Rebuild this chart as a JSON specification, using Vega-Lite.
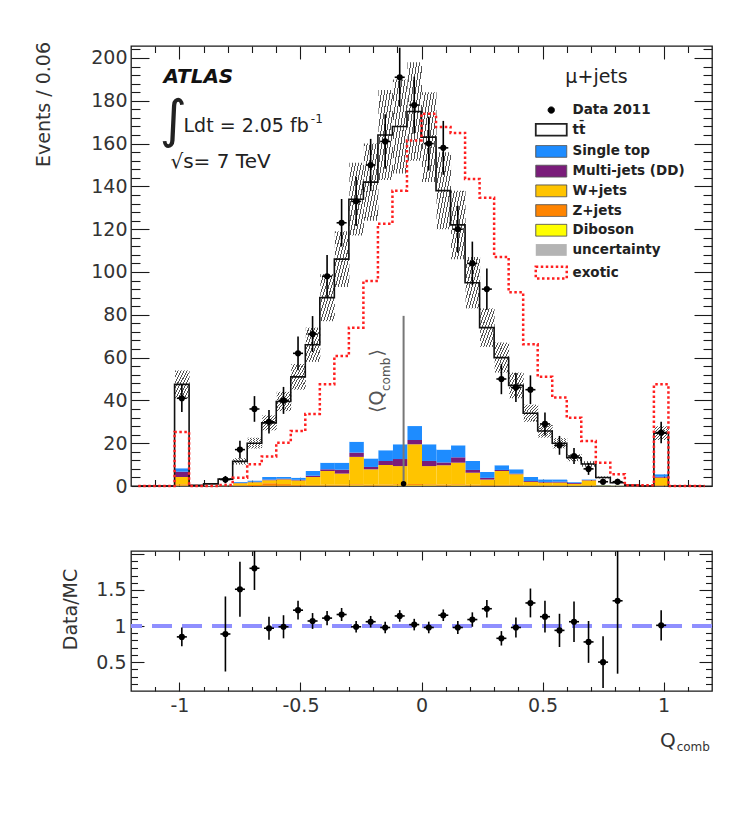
{
  "$schema": "https://vega.github.io/schema/vega-lite/v6.json",
  "background": "white",
  "autosize": {"type": "pad"},
  "padding": {"left": 33, "top": 40, "right": 10, "bottom": 10},
  "config": {
    "font": "DejaVu Sans",
    "view": {"stroke": "#1a1a1a", "strokeWidth": 1.3},
    "axis": {"grid": false, "domain": false, "tickColor": "#1a1a1a", "tickWidth": 1.1, "labelFont": "DejaVu Sans", "labelFontSize": 19, "labelColor": "#333333", "titleFont": "DejaVu Sans", "titleFontSize": 19, "titleFontWeight": "normal", "titleColor": "#333333", "labelPadding": 5}
  },
  "datasets": {
    "procs": [
      {"key": "diboson", "label": "Diboson", "rank": 1},
      {"key": "zjets", "label": "Z+jets", "rank": 2},
      {"key": "wjets", "label": "W+jets", "rank": 3},
      {"key": "multijet", "label": "Multi-jets (DD)", "rank": 4},
      {"key": "singletop", "label": "Single top", "rank": 5},
      {"key": "ttbar", "label": "tt\u0304", "rank": 6}
    ],
    "bkg": [
      {"q": -0.99, "ttbar": 39.2, "singletop": 1.6, "multijet": 2.5, "wjets": 3.4, "zjets": 0.6, "diboson": 0.2},
      {"q": -0.93, "ttbar": 0.3, "singletop": 0, "multijet": 0, "wjets": 0, "zjets": 0, "diboson": 0},
      {"q": -0.87, "ttbar": 0.9, "singletop": 0, "multijet": 0, "wjets": 0.1, "zjets": 0, "diboson": 0},
      {"q": -0.81, "ttbar": 2.7, "singletop": 0.2, "multijet": 0, "wjets": 0.3, "zjets": 0, "diboson": 0},
      {"q": -0.75, "ttbar": 9.6, "singletop": 0.4, "multijet": 0.2, "wjets": 1.0, "zjets": 0.3, "diboson": 0},
      {"q": -0.69, "ttbar": 17.4, "singletop": 0.6, "multijet": 0.3, "wjets": 1.2, "zjets": 0.5, "diboson": 0},
      {"q": -0.63, "ttbar": 25.3, "singletop": 1.2, "multijet": 0.3, "wjets": 1.4, "zjets": 1.2, "diboson": 0.1},
      {"q": -0.57, "ttbar": 35.3, "singletop": 0.8, "multijet": 0.3, "wjets": 2.2, "zjets": 0.8, "diboson": 0.1},
      {"q": -0.51, "ttbar": 47.1, "singletop": 1.0, "multijet": 0.3, "wjets": 2.1, "zjets": 0.4, "diboson": 0.1},
      {"q": -0.45, "ttbar": 59.0, "singletop": 2.2, "multijet": 0.6, "wjets": 3.7, "zjets": 0.3, "diboson": 0.2},
      {"q": -0.39, "ttbar": 77.1, "singletop": 3.1, "multijet": 0.8, "wjets": 6.4, "zjets": 0.4, "diboson": 0.2},
      {"q": -0.33, "ttbar": 95.1, "singletop": 3.3, "multijet": 1.8, "wjets": 5.2, "zjets": 0.4, "diboson": 0.2},
      {"q": -0.27, "ttbar": 113.3, "singletop": 5.1, "multijet": 2.0, "wjets": 12.8, "zjets": 0.5, "diboson": 0.3},
      {"q": -0.21, "ttbar": 129.1, "singletop": 4.0, "multijet": 1.1, "wjets": 7.2, "zjets": 0.4, "diboson": 0.2},
      {"q": -0.15, "ttbar": 147.3, "singletop": 5.0, "multijet": 1.9, "wjets": 9.1, "zjets": 0.5, "diboson": 0.2},
      {"q": -0.09, "ttbar": 148.5, "singletop": 6.9, "multijet": 3.3, "wjets": 8.5, "zjets": 0.5, "diboson": 0.3},
      {"q": -0.03, "ttbar": 147.0, "singletop": 6.5, "multijet": 2.0, "wjets": 18.6, "zjets": 0.6, "diboson": 0.3},
      {"q": 0.03, "ttbar": 143.5, "singletop": 7.8, "multijet": 2.4, "wjets": 8.5, "zjets": 0.5, "diboson": 0.3},
      {"q": 0.09, "ttbar": 121.0, "singletop": 6.0, "multijet": 1.3, "wjets": 9.0, "zjets": 0.5, "diboson": 0.2},
      {"q": 0.15, "ttbar": 103.0, "singletop": 5.6, "multijet": 2.5, "wjets": 10.1, "zjets": 0.5, "diboson": 0.3},
      {"q": 0.21, "ttbar": 83.3, "singletop": 4.2, "multijet": 1.3, "wjets": 5.6, "zjets": 0.4, "diboson": 0.2},
      {"q": 0.27, "ttbar": 67.4, "singletop": 2.8, "multijet": 0.8, "wjets": 2.6, "zjets": 0.3, "diboson": 0.1},
      {"q": 0.33, "ttbar": 50.3, "singletop": 2.2, "multijet": 0.5, "wjets": 6.5, "zjets": 0.3, "diboson": 0.2},
      {"q": 0.39, "ttbar": 39.2, "singletop": 2.0, "multijet": 0.3, "wjets": 5.1, "zjets": 0.3, "diboson": 0.1},
      {"q": 0.45, "ttbar": 29.8, "singletop": 1.9, "multijet": 0.4, "wjets": 1.6, "zjets": 0.2, "diboson": 0.1},
      {"q": 0.51, "ttbar": 22.6, "singletop": 1.2, "multijet": 0.3, "wjets": 1.3, "zjets": 0.2, "diboson": 0.1},
      {"q": 0.57, "ttbar": 16.9, "singletop": 1.1, "multijet": 0.4, "wjets": 1.3, "zjets": 0.2, "diboson": 0.1},
      {"q": 0.63, "ttbar": 11.4, "singletop": 0.4, "multijet": 0.4, "wjets": 0.8, "zjets": 0.1, "diboson": 0.1},
      {"q": 0.69, "ttbar": 7.2, "singletop": 0.3, "multijet": 0.2, "wjets": 2.3, "zjets": 0.2, "diboson": 0.1},
      {"q": 0.75, "ttbar": 3.5, "singletop": 0.2, "multijet": 0, "wjets": 0.3, "zjets": 0, "diboson": 0},
      {"q": 0.81, "ttbar": 1.2, "singletop": 0.1, "multijet": 0, "wjets": 0.2, "zjets": 0, "diboson": 0},
      {"q": 0.87, "ttbar": 0.4, "singletop": 0, "multijet": 0, "wjets": 0, "zjets": 0, "diboson": 0},
      {"q": 0.99, "ttbar": 19.2, "singletop": 1.2, "multijet": 0.4, "wjets": 3.5, "zjets": 0.3, "diboson": 0.1}
    ],
    "hist": [
      {"q": -1.17, "mc": 0, "band_lo": 0, "band_hi": 0, "exotic": 0},
      {"q": -1.11, "mc": 0, "band_lo": 0, "band_hi": 0, "exotic": 0},
      {"q": -1.05, "mc": 0, "band_lo": 0, "band_hi": 0, "exotic": 0},
      {"q": -0.99, "mc": 47.5, "band_lo": 41, "band_hi": 54, "exotic": 25.2},
      {"q": -0.93, "mc": 0.3, "band_lo": 0.2, "band_hi": 0.4, "exotic": 0},
      {"q": -0.87, "mc": 1.0, "band_lo": 0.8, "band_hi": 1.2, "exotic": 0},
      {"q": -0.81, "mc": 3.2, "band_lo": 2.7, "band_hi": 3.7, "exotic": 0.5},
      {"q": -0.75, "mc": 11.5, "band_lo": 10, "band_hi": 13, "exotic": 3.9},
      {"q": -0.69, "mc": 20, "band_lo": 17.5, "band_hi": 22.5, "exotic": 10.2},
      {"q": -0.63, "mc": 29.5, "band_lo": 26, "band_hi": 33, "exotic": 13.8},
      {"q": -0.57, "mc": 39.5, "band_lo": 35, "band_hi": 44, "exotic": 20.2},
      {"q": -0.51, "mc": 51, "band_lo": 45, "band_hi": 57, "exotic": 25.7},
      {"q": -0.45, "mc": 66, "band_lo": 58, "band_hi": 74, "exotic": 33.7},
      {"q": -0.39, "mc": 88, "band_lo": 77, "band_hi": 99, "exotic": 47.5},
      {"q": -0.33, "mc": 106, "band_lo": 93, "band_hi": 119, "exotic": 60.7},
      {"q": -0.27, "mc": 134, "band_lo": 117, "band_hi": 151, "exotic": 74},
      {"q": -0.21, "mc": 142, "band_lo": 124, "band_hi": 160, "exotic": 95.8},
      {"q": -0.15, "mc": 164, "band_lo": 143, "band_hi": 185, "exotic": 122.6},
      {"q": -0.09, "mc": 168, "band_lo": 146, "band_hi": 190, "exotic": 138},
      {"q": -0.03, "mc": 175, "band_lo": 152, "band_hi": 198, "exotic": 161.5},
      {"q": 0.03, "mc": 163, "band_lo": 142, "band_hi": 184, "exotic": 174},
      {"q": 0.09, "mc": 138, "band_lo": 120, "band_hi": 156, "exotic": 167.8},
      {"q": 0.15, "mc": 122, "band_lo": 106, "band_hi": 138, "exotic": 165},
      {"q": 0.21, "mc": 95, "band_lo": 83, "band_hi": 107, "exotic": 143.5},
      {"q": 0.27, "mc": 74, "band_lo": 65, "band_hi": 83, "exotic": 134.7},
      {"q": 0.33, "mc": 60, "band_lo": 53, "band_hi": 67, "exotic": 107},
      {"q": 0.39, "mc": 47, "band_lo": 41, "band_hi": 53, "exotic": 90.5},
      {"q": 0.45, "mc": 34, "band_lo": 30, "band_hi": 38, "exotic": 66.2},
      {"q": 0.51, "mc": 25.7, "band_lo": 22.6, "band_hi": 28.8, "exotic": 51},
      {"q": 0.57, "mc": 20, "band_lo": 17.6, "band_hi": 22.4, "exotic": 41.3},
      {"q": 0.63, "mc": 13.2, "band_lo": 11.6, "band_hi": 14.8, "exotic": 31.9},
      {"q": 0.69, "mc": 10.3, "band_lo": 9, "band_hi": 11.6, "exotic": 21},
      {"q": 0.75, "mc": 4, "band_lo": 3.5, "band_hi": 4.5, "exotic": 10.9},
      {"q": 0.81, "mc": 1.5, "band_lo": 1.3, "band_hi": 1.7, "exotic": 5.5},
      {"q": 0.87, "mc": 0.4, "band_lo": 0.35, "band_hi": 0.45, "exotic": 0.3},
      {"q": 0.93, "mc": 0, "band_lo": 0, "band_hi": 0, "exotic": 0.3},
      {"q": 0.99, "mc": 24.7, "band_lo": 21.5, "band_hi": 27.9, "exotic": 47.5},
      {"q": 1.05, "mc": 0, "band_lo": 0, "band_hi": 0, "exotic": 0},
      {"q": 1.11, "mc": 0, "band_lo": 0, "band_hi": 0, "exotic": 0},
      {"q": 1.17, "mc": 0, "band_lo": 0, "band_hi": 0, "exotic": 0}
    ],
    "d2011": [
      {"q": -0.99, "events": 41, "err": 6.4},
      {"q": -0.81, "events": 3, "err": 1.7},
      {"q": -0.75, "events": 17, "err": 4.1},
      {"q": -0.69, "events": 36, "err": 6.0},
      {"q": -0.63, "events": 30, "err": 5.5},
      {"q": -0.57, "events": 40, "err": 6.3},
      {"q": -0.51, "events": 62, "err": 7.9},
      {"q": -0.45, "events": 71, "err": 8.4},
      {"q": -0.39, "events": 98, "err": 9.9},
      {"q": -0.33, "events": 123, "err": 11.1},
      {"q": -0.27, "events": 133, "err": 11.5},
      {"q": -0.21, "events": 150, "err": 12.2},
      {"q": -0.15, "events": 161, "err": 12.7},
      {"q": -0.09, "events": 191, "err": 13.8},
      {"q": -0.03, "events": 178, "err": 13.3},
      {"q": 0.03, "events": 160, "err": 12.6},
      {"q": 0.09, "events": 158, "err": 12.6},
      {"q": 0.15, "events": 120, "err": 11.0},
      {"q": 0.21, "events": 104, "err": 10.2},
      {"q": 0.27, "events": 92, "err": 9.6},
      {"q": 0.33, "events": 50, "err": 7.1},
      {"q": 0.39, "events": 46, "err": 6.8},
      {"q": 0.45, "events": 45, "err": 6.7},
      {"q": 0.51, "events": 29, "err": 5.4},
      {"q": 0.57, "events": 19, "err": 4.4},
      {"q": 0.63, "events": 14, "err": 3.7},
      {"q": 0.69, "events": 8, "err": 2.8},
      {"q": 0.75, "events": 2, "err": 1.4},
      {"q": 0.81, "events": 2, "err": 1.4},
      {"q": 0.99, "events": 25, "err": 5.0}
    ],
    "ratio": [
      {"q": -0.99, "r": 0.85, "err": 0.13},
      {"q": -0.81, "r": 0.89, "err": 0.52},
      {"q": -0.75, "r": 1.51, "err": 0.38},
      {"q": -0.69, "r": 1.80, "err": 0.30},
      {"q": -0.63, "r": 0.97, "err": 0.16},
      {"q": -0.57, "r": 0.99, "err": 0.16},
      {"q": -0.51, "r": 1.22, "err": 0.13},
      {"q": -0.45, "r": 1.07, "err": 0.11},
      {"q": -0.39, "r": 1.11, "err": 0.10},
      {"q": -0.33, "r": 1.16, "err": 0.09},
      {"q": -0.27, "r": 0.99, "err": 0.08},
      {"q": -0.21, "r": 1.06, "err": 0.08},
      {"q": -0.15, "r": 0.98, "err": 0.08},
      {"q": -0.09, "r": 1.14, "err": 0.08},
      {"q": -0.03, "r": 1.02, "err": 0.08},
      {"q": 0.03, "r": 0.98, "err": 0.08},
      {"q": 0.09, "r": 1.15, "err": 0.08},
      {"q": 0.15, "r": 0.98, "err": 0.09},
      {"q": 0.21, "r": 1.09, "err": 0.10},
      {"q": 0.27, "r": 1.24, "err": 0.12},
      {"q": 0.33, "r": 0.83, "err": 0.10},
      {"q": 0.39, "r": 0.98, "err": 0.14},
      {"q": 0.45, "r": 1.32, "err": 0.20},
      {"q": 0.51, "r": 1.13, "err": 0.22},
      {"q": 0.57, "r": 0.94, "err": 0.23},
      {"q": 0.63, "r": 1.06, "err": 0.28},
      {"q": 0.69, "r": 0.78, "err": 0.29},
      {"q": 0.75, "r": 0.50, "err": 0.36},
      {"q": 0.81, "r": 1.35, "err": 1.01},
      {"q": 0.99, "r": 1.01, "err": 0.21}
    ]
  },
  "spacing": 65,
  "bounds": "flush",
  "vconcat": [
    {
      "width": 581,
      "height": 440,
      "resolve": {"axis": {"x": "independent", "y": "independent"}},
      "layer": [
        {
          "layer": [
            {
              "data": {"name": "bkg"},
              "transform": [
                {"fold": ["diboson", "zjets", "wjets", "multijet", "singletop", "ttbar"], "as": ["key", "events"]},
                {"lookup": "key", "from": {"data": {"name": "procs"}, "key": "key", "fields": ["label", "rank"]}}
              ],
              "mark": {"type": "bar", "binSpacing": 0},
              "encoding": {
                "x": {"field": "q", "type": "quantitative", "bin": {"extent": [-1.2, 1.2], "step": 0.06}, "scale": {"domain": [-1.2, 1.2], "nice": false, "zero": false},
                  "axis": {"orient": "bottom", "title": null, "labels": false, "ticks": false, "values": [-1, -0.5, 0, 0.5, 1]}},
                "y": {"field": "events", "type": "quantitative", "stack": "zero", "scale": {"domain": [0, 205.6], "nice": false, "zero": true},
                  "axis": {"orient": "left", "title": "Events / 0.06", "titleX": -88, "titleY": 58, "titleAngle": 270, "titleAlign": "center", "titleBaseline": "middle", "labelPadding": 4, "ticks": false,
                    "values": [0, 20, 40, 60, 80, 100, 120, 140, 160, 180, 200]}},
                "color": {"field": "label", "type": "nominal",
                  "scale": {"domain": ["Data 2011", "tt\u0304", "Single top", "Multi-jets (DD)", "W+jets", "Z+jets", "Diboson", "uncertainty", "exotic"],
                            "range": ["#000000", "#ffffff", "#1e8cff", "#7a1c7a", "#ffc400", "#ff8400", "#ffff00", "#b4b4b4", "#ffffff"]},
                  "legend": {"orient": "none", "legendX": 413.5, "legendY": 57.3, "title": null, "padding": 0, "direction": "vertical",
                    "symbolSize": 361, "symbolStrokeWidth": 1, "labelOffset": 14.5, "rowPadding": 2.7,
                    "labelFont": "DejaVu Sans", "labelFontSize": 13.5, "labelFontWeight": "bold", "labelColor": "#222222",
                    "encode": {"symbols": {"update": {
                      "shape": {"signal": "datum.value === 'Data 2011' ? 'circle' : 'M-1.63,-0.62H1.63V0.62H-1.63Z'"},
                      "size": {"signal": "datum.value === 'Data 2011' ? 40 : 361"},
                      "stroke": {"signal": "datum.value === 'exotic' ? '#ff2020' : datum.value === 'uncertainty' ? 'rgba(255,255,255,0)' : datum.value === 'Data 2011' ? '#000000' : datum.value === 'tt\u0304' ? '#222222' : '#555555'"},
                      "strokeWidth": {"signal": "datum.value === 'exotic' ? 2.5 : datum.value === 'tt\u0304' ? 1.8 : 1"},
                      "strokeDash": {"signal": "datum.value === 'exotic' ? [2.5, 2.5] : [1, 0]"},
                      "opacity": {"value": 1}
                    }}}}},
                "order": {"field": "rank", "type": "quantitative"}
              }
            },
            {
              "data": {"name": "hist"},
              "mark": {"type": "rect", "binSpacing": 0, "fill": {"gradient": "linear", "x1": 0, "y1": 0, "x2": 1, "y2": 1, "stops": [
                {"offset": 0, "color": "#505050"}, {"offset": 0.035, "color": "#505050"}, {"offset": 0.035, "color": "rgba(255,255,255,0)"}, {"offset": 0.1, "color": "rgba(255,255,255,0)"},
                {"offset": 0.1, "color": "#505050"}, {"offset": 0.135, "color": "#505050"}, {"offset": 0.135, "color": "rgba(255,255,255,0)"}, {"offset": 0.2, "color": "rgba(255,255,255,0)"},
                {"offset": 0.2, "color": "#505050"}, {"offset": 0.235, "color": "#505050"}, {"offset": 0.235, "color": "rgba(255,255,255,0)"}, {"offset": 0.3, "color": "rgba(255,255,255,0)"},
                {"offset": 0.3, "color": "#505050"}, {"offset": 0.335, "color": "#505050"}, {"offset": 0.335, "color": "rgba(255,255,255,0)"}, {"offset": 0.4, "color": "rgba(255,255,255,0)"},
                {"offset": 0.4, "color": "#505050"}, {"offset": 0.435, "color": "#505050"}, {"offset": 0.435, "color": "rgba(255,255,255,0)"}, {"offset": 0.5, "color": "rgba(255,255,255,0)"},
                {"offset": 0.5, "color": "#505050"}, {"offset": 0.535, "color": "#505050"}, {"offset": 0.535, "color": "rgba(255,255,255,0)"}, {"offset": 0.6, "color": "rgba(255,255,255,0)"},
                {"offset": 0.6, "color": "#505050"}, {"offset": 0.635, "color": "#505050"}, {"offset": 0.635, "color": "rgba(255,255,255,0)"}, {"offset": 0.7, "color": "rgba(255,255,255,0)"},
                {"offset": 0.7, "color": "#505050"}, {"offset": 0.735, "color": "#505050"}, {"offset": 0.735, "color": "rgba(255,255,255,0)"}, {"offset": 0.8, "color": "rgba(255,255,255,0)"},
                {"offset": 0.8, "color": "#505050"}, {"offset": 0.835, "color": "#505050"}, {"offset": 0.835, "color": "rgba(255,255,255,0)"}, {"offset": 0.9, "color": "rgba(255,255,255,0)"},
                {"offset": 0.9, "color": "#505050"}, {"offset": 0.935, "color": "#505050"}, {"offset": 0.935, "color": "rgba(255,255,255,0)"}, {"offset": 1, "color": "rgba(255,255,255,0)"}]}},
              "encoding": {
                "x": {"field": "q", "type": "quantitative", "bin": {"extent": [-1.2, 1.2], "step": 0.06}},
                "y": {"field": "band_lo", "type": "quantitative"},
                "y2": {"field": "band_hi"}
              }
            },
            {
              "data": {"name": "hist"},
              "mark": {"type": "line", "interpolate": "step", "color": "#111111", "strokeWidth": 1.6},
              "encoding": {
                "x": {"field": "q", "type": "quantitative"},
                "y": {"field": "mc", "type": "quantitative"}
              }
            },
            {
              "data": {"name": "hist"},
              "mark": {"type": "line", "interpolate": "step", "color": "#ff2020", "strokeWidth": 2.5, "strokeDash": [2.5, 2.5]},
              "encoding": {
                "x": {"field": "q", "type": "quantitative"},
                "y": {"field": "exotic", "type": "quantitative"}
              }
            },
            {
              "data": {"values": [{}]},
              "mark": {"type": "rule", "color": "#777777", "strokeWidth": 2},
              "encoding": {
                "x": {"datum": -0.074, "type": "quantitative"},
                "y": {"datum": 0, "type": "quantitative"},
                "y2": {"datum": 79.5}
              }
            },
            {
              "data": {"values": [{}]},
              "mark": {"type": "point", "filled": true, "size": 30, "color": "#000000", "opacity": 1},
              "encoding": {
                "x": {"datum": -0.074, "type": "quantitative"},
                "y": {"datum": 1, "type": "quantitative"}
              }
            },
            {
              "data": {"name": "d2011"},
              "mark": {"type": "errorbar", "ticks": false, "thickness": 1.6, "color": "#000000"},
              "encoding": {
                "x": {"field": "q", "type": "quantitative", "title": null},
                "y": {"field": "events", "type": "quantitative", "title": "Events / 0.06"},
                "yError": {"field": "err"}
              }
            },
            {
              "data": {"name": "d2011"},
              "mark": {"type": "tick", "orient": "horizontal", "size": 10, "thickness": 1.6, "color": "#000000", "opacity": 1},
              "encoding": {
                "x": {"field": "q", "type": "quantitative"},
                "y": {"field": "events", "type": "quantitative"}
              }
            },
            {
              "data": {"name": "d2011"},
              "mark": {"type": "point", "filled": true, "shape": "circle", "size": 38, "color": "#000000", "opacity": 1},
              "encoding": {
                "x": {"field": "q", "type": "quantitative"},
                "y": {"field": "events", "type": "quantitative"}
              }
            },
            {
              "data": {"values": [{}]},
              "mark": {"type": "text", "text": "ATLAS", "align": "left", "baseline": "alphabetic", "font": "DejaVu Sans", "fontSize": 20, "fontWeight": "bold", "fontStyle": "italic", "color": "#111111"},
              "encoding": {"x": {"datum": -1.066, "type": "quantitative"}, "y": {"datum": 188.5, "type": "quantitative"}}
            },
            {
              "data": {"values": [{}]},
              "mark": {"type": "text", "text": "\u222b", "align": "left", "baseline": "alphabetic", "font": "DejaVu Sans", "fontSize": 52, "color": "#222222"},
              "encoding": {"x": {"datum": -1.082, "type": "quantitative"}, "y": {"datum": 163, "type": "quantitative"}}
            },
            {
              "data": {"values": [{}]},
              "mark": {"type": "text", "text": "Ldt = 2.05 fb", "align": "left", "baseline": "alphabetic", "font": "DejaVu Sans", "fontSize": 19, "color": "#222222"},
              "encoding": {"x": {"datum": -0.983, "type": "quantitative"}, "y": {"datum": 165.4, "type": "quantitative"}}
            },
            {
              "data": {"values": [{}]},
              "mark": {"type": "text", "text": "-1", "align": "left", "baseline": "alphabetic", "font": "DejaVu Sans", "fontSize": 12, "color": "#222222"},
              "encoding": {"x": {"datum": -0.457, "type": "quantitative"}, "y": {"datum": 169.6, "type": "quantitative"}}
            },
            {
              "data": {"values": [{}]},
              "mark": {"type": "text", "text": "\u221as= 7 TeV", "align": "left", "baseline": "alphabetic", "font": "DejaVu Sans", "fontSize": 20, "color": "#222222"},
              "encoding": {"x": {"datum": -1.037, "type": "quantitative"}, "y": {"datum": 148.6, "type": "quantitative"}}
            },
            {
              "data": {"values": [{}]},
              "mark": {"type": "text", "text": "\u03bc+jets", "align": "center", "baseline": "alphabetic", "font": "DejaVu Sans", "fontSize": 19, "color": "#222222"},
              "encoding": {"x": {"datum": 0.723, "type": "quantitative"}, "y": {"datum": 188.5, "type": "quantitative"}}
            },
            {
              "data": {"values": [{}]},
              "mark": {"type": "text", "text": "\u27e8Q", "align": "left", "baseline": "alphabetic", "angle": 270, "font": "DejaVu Sans", "fontSize": 19, "color": "#555555"},
              "encoding": {"x": {"datum": -0.157, "type": "quantitative"}, "y": {"datum": 34.1, "type": "quantitative"}}
            },
            {
              "data": {"values": [{}]},
              "mark": {"type": "text", "text": "comb", "align": "left", "baseline": "alphabetic", "angle": 270, "font": "DejaVu Sans", "fontSize": 12, "color": "#555555"},
              "encoding": {"x": {"datum": -0.132, "type": "quantitative"}, "y": {"datum": 44.4, "type": "quantitative"}}
            },
            {
              "data": {"values": [{}]},
              "mark": {"type": "text", "text": "\u27e9", "align": "left", "baseline": "alphabetic", "angle": 270, "font": "DejaVu Sans", "fontSize": 19, "color": "#555555"},
              "encoding": {"x": {"datum": -0.157, "type": "quantitative"}, "y": {"datum": 60.5, "type": "quantitative"}}
            }
          ]
        },
        {
          "data": {"values": [{}]},
          "mark": {"type": "point", "opacity": 0},
          "encoding": {
            "x": {"datum": 0, "type": "quantitative", "axis": {"orient": "bottom", "title": null, "labels": false, "tickSize": -13, "values": [-1, -0.5, 0, 0.5, 1]}},
            "y": {"datum": 0, "type": "quantitative", "axis": {"orient": "left", "title": null, "labels": false, "tickSize": -18, "values": [0, 20, 40, 60, 80, 100, 120, 140, 160, 180, 200]}}
          }
        },
        {
          "data": {"values": [{}]},
          "mark": {"type": "point", "opacity": 0},
          "encoding": {
            "x": {"datum": 0, "type": "quantitative", "axis": {"orient": "top", "title": null, "labels": false, "tickSize": -13, "values": [-1, -0.5, 0, 0.5, 1]}},
            "y": {"datum": 0, "type": "quantitative", "axis": {"orient": "right", "title": null, "labels": false, "tickSize": -18, "values": [0, 20, 40, 60, 80, 100, 120, 140, 160, 180, 200]}}
          }
        },
        {
          "data": {"values": [{}]},
          "mark": {"type": "point", "opacity": 0},
          "encoding": {
            "x": {"datum": 0, "type": "quantitative", "axis": {"orient": "bottom", "title": null, "labels": false, "tickSize": -6.5, "values": [-1.1, -0.9, -0.8, -0.7, -0.6, -0.4, -0.3, -0.2, -0.1, 0.1, 0.2, 0.3, 0.4, 0.6, 0.7, 0.8, 0.9, 1.1]}},
            "y": {"datum": 0, "type": "quantitative", "axis": {"orient": "left", "title": null, "labels": false, "tickSize": -9, "values": [4, 8, 12, 16, 24, 28, 32, 36, 44, 48, 52, 56, 64, 68, 72, 76, 84, 88, 92, 96, 104, 108, 112, 116, 124, 128, 132, 136, 144, 148, 152, 156, 164, 168, 172, 176, 184, 188, 192, 196, 204]}}
          }
        },
        {
          "data": {"values": [{}]},
          "mark": {"type": "point", "opacity": 0},
          "encoding": {
            "x": {"datum": 0, "type": "quantitative", "axis": {"orient": "top", "title": null, "labels": false, "tickSize": -6.5, "values": [-1.1, -0.9, -0.8, -0.7, -0.6, -0.4, -0.3, -0.2, -0.1, 0.1, 0.2, 0.3, 0.4, 0.6, 0.7, 0.8, 0.9, 1.1]}},
            "y": {"datum": 0, "type": "quantitative", "axis": {"orient": "right", "title": null, "labels": false, "tickSize": -9, "values": [4, 8, 12, 16, 24, 28, 32, 36, 44, 48, 52, 56, 64, 68, 72, 76, 84, 88, 92, 96, 104, 108, 112, 116, 124, 128, 132, 136, 144, 148, 152, 156, 164, 168, 172, 176, 184, 188, 192, 196, 204]}}
          }
        }
      ]
    },
    {
      "width": 581,
      "height": 140,
      "resolve": {"axis": {"x": "independent", "y": "independent"}},
      "layer": [
        {
          "layer": [
            {
              "data": {"values": [{}]},
              "mark": {"type": "rule", "color": "#8f8fff", "strokeWidth": 4, "strokeDash": [20, 10]},
              "encoding": {
                "y": {"datum": 1, "type": "quantitative", "scale": {"domain": [0.1, 2.04], "nice": false, "zero": false},
                  "axis": {"orient": "left", "title": "Data/MC", "titleX": -61, "titleY": 58, "titleAngle": 270, "titleAlign": "center", "titleBaseline": "middle", "labelPadding": 5, "ticks": false,
                    "values": [0.5, 1, 1.5],
                    "labelExpr": "'' + datum.value"}}
              }
            },
            {
              "data": {"name": "ratio"},
              "mark": {"type": "errorbar", "ticks": false, "thickness": 1.6, "color": "#000000", "clip": true},
              "encoding": {
                "x": {"field": "q", "type": "quantitative", "title": null},
                "y": {"field": "r", "type": "quantitative", "title": "Data/MC"},
                "yError": {"field": "err"}
              }
            },
            {
              "data": {"name": "ratio"},
              "mark": {"type": "tick", "orient": "horizontal", "size": 10, "thickness": 1.6, "color": "#000000", "opacity": 1},
              "encoding": {
                "x": {"field": "q", "type": "quantitative"},
                "y": {"field": "r", "type": "quantitative"}
              }
            },
            {
              "data": {"name": "ratio"},
              "mark": {"type": "point", "filled": true, "shape": "circle", "size": 38, "color": "#000000", "opacity": 1},
              "encoding": {
                "x": {"field": "q", "type": "quantitative", "scale": {"domain": [-1.2, 1.2], "nice": false, "zero": false},
                  "axis": {"orient": "bottom", "title": null, "labelPadding": 5, "ticks": false,
                    "values": [-1, -0.5, 0, 0.5, 1],
                    "labelExpr": "'' + datum.value"}},
                "y": {"field": "r", "type": "quantitative"}
              }
            },
            {
              "data": {"values": [{}]},
              "mark": {"type": "text", "text": "Q", "align": "right", "baseline": "alphabetic", "font": "DejaVu Sans", "fontSize": 20, "color": "#333333"},
              "encoding": {"x": {"datum": 1.05, "type": "quantitative"}, "y": {"datum": -0.67, "type": "quantitative"}}
            },
            {
              "data": {"values": [{}]},
              "mark": {"type": "text", "text": "comb", "align": "left", "baseline": "alphabetic", "font": "DejaVu Sans", "fontSize": 12, "color": "#333333"},
              "encoding": {"x": {"datum": 1.054, "type": "quantitative"}, "y": {"datum": -0.73, "type": "quantitative"}}
            }
          ]
        },
        {
          "data": {"values": [{}]},
          "mark": {"type": "point", "opacity": 0},
          "encoding": {
            "x": {"datum": 0, "type": "quantitative", "axis": {"orient": "bottom", "title": null, "labels": false, "tickSize": -9, "values": [-1, -0.5, 0, 0.5, 1]}},
            "y": {"datum": 1, "type": "quantitative", "axis": {"orient": "left", "title": null, "labels": false, "tickSize": -13, "values": [0.5, 1, 1.5, 2]}}
          }
        },
        {
          "data": {"values": [{}]},
          "mark": {"type": "point", "opacity": 0},
          "encoding": {
            "x": {"datum": 0, "type": "quantitative", "axis": {"orient": "top", "title": null, "labels": false, "tickSize": -9, "values": [-1, -0.5, 0, 0.5, 1]}},
            "y": {"datum": 1, "type": "quantitative", "axis": {"orient": "right", "title": null, "labels": false, "tickSize": -13, "values": [0.5, 1, 1.5, 2]}}
          }
        },
        {
          "data": {"values": [{}]},
          "mark": {"type": "point", "opacity": 0},
          "encoding": {
            "x": {"datum": 0, "type": "quantitative", "axis": {"orient": "bottom", "title": null, "labels": false, "tickSize": -4.5, "values": [-1.1, -0.9, -0.8, -0.7, -0.6, -0.4, -0.3, -0.2, -0.1, 0.1, 0.2, 0.3, 0.4, 0.6, 0.7, 0.8, 0.9, 1.1]}},
            "y": {"datum": 1, "type": "quantitative", "axis": {"orient": "left", "title": null, "labels": false, "tickSize": -6.5, "values": [0.2, 0.3, 0.4, 0.6, 0.7, 0.8, 0.9, 1.1, 1.2, 1.3, 1.4, 1.6, 1.7, 1.8, 1.9]}}
          }
        },
        {
          "data": {"values": [{}]},
          "mark": {"type": "point", "opacity": 0},
          "encoding": {
            "x": {"datum": 0, "type": "quantitative", "axis": {"orient": "top", "title": null, "labels": false, "tickSize": -4.5, "values": [-1.1, -0.9, -0.8, -0.7, -0.6, -0.4, -0.3, -0.2, -0.1, 0.1, 0.2, 0.3, 0.4, 0.6, 0.7, 0.8, 0.9, 1.1]}},
            "y": {"datum": 1, "type": "quantitative", "axis": {"orient": "right", "title": null, "labels": false, "tickSize": -6.5, "values": [0.2, 0.3, 0.4, 0.6, 0.7, 0.8, 0.9, 1.1, 1.2, 1.3, 1.4, 1.6, 1.7, 1.8, 1.9]}}
          }
        }
      ]
    }
  ]
}
